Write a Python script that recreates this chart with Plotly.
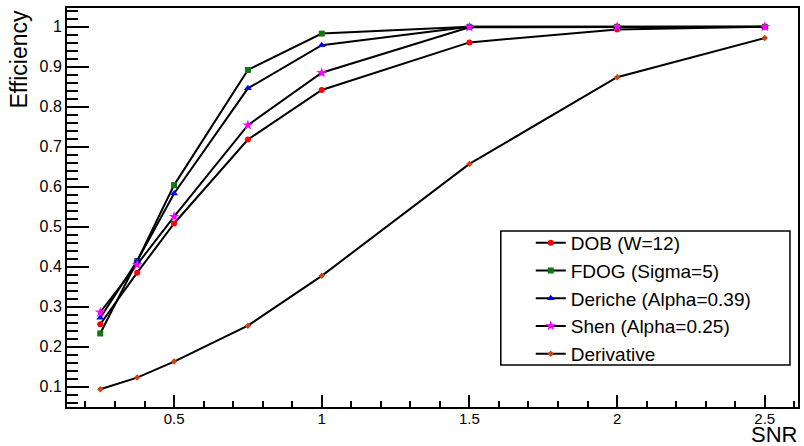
import plotly.graph_objects as go

snr = [0.25, 0.375, 0.5, 0.75, 1.0, 1.5, 2.0, 2.5]

dob = [0.256, 0.385, 0.508, 0.718, 0.842, 0.961, 0.993, 1.0]
fdog = [0.233, 0.414, 0.604, 0.892, 0.983, 1.0, 1.0, 1.0]
deriche = [0.272, 0.414, 0.583, 0.846, 0.954, 1.0, 1.0, 1.0]
shen = [0.286, 0.405, 0.525, 0.754, 0.885, 0.999, 1.0, 1.0]
derivative = [0.0935, 0.1225, 0.1625, 0.2525, 0.377, 0.657, 0.874, 0.972]

names = ["DOB (W=12)", "FDOG (Sigma=5)", "Deriche (Alpha=0.39)", "Shen (Alpha=0.25)", "Derivative"]
series = [dob, fdog, deriche, shen, derivative]
colors = ["#ff0000", "#117711", "#0000ff", "#ff00ff", "#cc4411"]
symbols = ["circle", "square", "triangle-up", "star", "diamond"]
sizes = [6, 6, 7, 8, 5]

FONT = "Liberation Sans, Arial, Helvetica, sans-serif"

fig = go.Figure()
for n, s, c, sym, sz in zip(names, series, colors, symbols, sizes):
    fig.add_trace(go.Scatter(
        x=snr, y=s, name=n, mode="lines+markers",
        line=dict(color="black", width=2),
        marker=dict(color=c, symbol=sym, size=sz, line=dict(width=0)),
    ))

fig.update_layout(
    width=804, height=446,
    margin=dict(l=67, r=4, t=8, b=39),
    paper_bgcolor="white", plot_bgcolor="white",
    font=dict(family=FONT, color="black"),
    showlegend=True,
    legend=dict(
        x=0.6344, y=0.4586, xanchor="left", yanchor="top",
        borderwidth=0, bgcolor="rgba(0,0,0,0)",
        font=dict(size=19, family=FONT), tracegroupgap=0,
    ),
    shapes=[
        dict(type="rect", xref="paper", yref="paper",
             x0=0.5934, x1=0.989, y0=0.1053, y1=0.441,
             line=dict(color="black", width=1.5), fillcolor="white", layer="above"),
    ],
    xaxis=dict(
        range=[0.1375, 2.6125], showgrid=False, zeroline=False,
        showline=True, linecolor="black", linewidth=2, mirror=True,
        ticks="inside", ticklen=12, tickwidth=1.5, tickcolor="black",
        tick0=0.5, dtick=0.5, ticklabelstandoff=-3,
        minor=dict(ticks="inside", ticklen=6, dtick=0.1, tick0=0.0, tickcolor="black", tickwidth=1.5),
        tickfont=dict(size=15, family=FONT),
    ),
    yaxis=dict(
        range=[0.049, 1.047], showgrid=False, zeroline=False,
        showline=True, linecolor="black", linewidth=2, mirror=True,
        ticks="inside", ticklen=22, tickwidth=1.5, tickcolor="black",
        tick0=0.0, dtick=0.1,
        minor=dict(ticks="inside", ticklen=11, dtick=0.02, tick0=0.0, tickcolor="black", tickwidth=1.5),
        tickfont=dict(size=16, family=FONT),
    ),
    annotations=[
        dict(text="Efficiency", xref="paper", yref="paper", x=-0.067, y=1.0,
             xanchor="center", yanchor="top", textangle=-90, showarrow=False,
             font=dict(size=23, family=FONT)),
        dict(text="SNR", xref="paper", yref="paper", x=1.0014, y=-0.0677,
             xanchor="right", yanchor="middle", showarrow=False,
             font=dict(size=22, family=FONT)),
    ],
)

fig.write_html("out.html", config={"displayModeBar": False},
               post_script="document.body.style.margin='0';document.body.style.padding='0';")
